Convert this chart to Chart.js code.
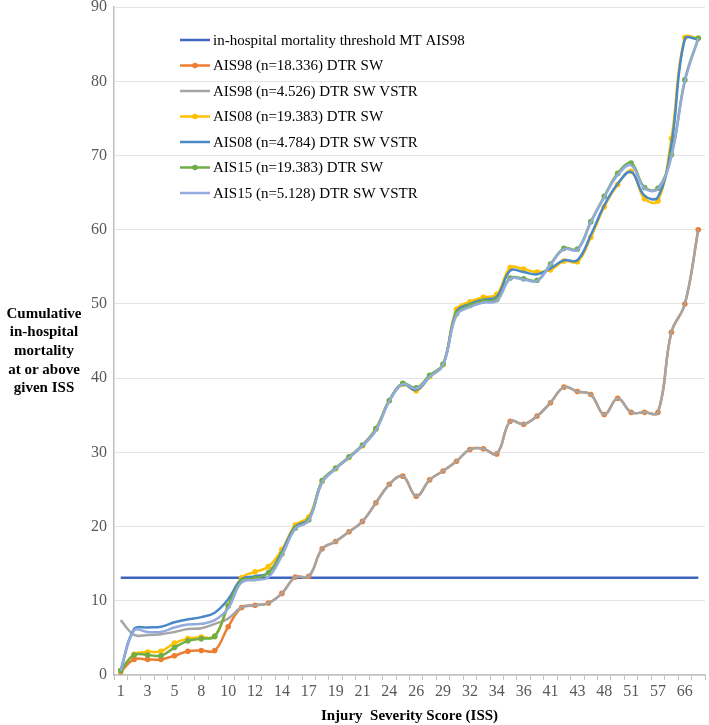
<!DOCTYPE html>
<html lang="en">
<head>
  <meta charset="UTF-8">
  <title>Cumulative in-hospital mortality at or above given ISS</title>
  <style>
    html, body { margin: 0; padding: 0; background: #fff; }
    #wrap { width: 709px; height: 725px; }
  </style>
</head>
<body>
<div id="wrap"><canvas id="chart" width="709" height="725"></canvas></div>
<script src="https://cdn.jsdelivr.net/npm/chart.js@4"></script>
<script>
// ISS categories on the x axis (only every other one gets a label)
const issValues = ['1','2','3','4','5','6','8','9','10','11','12','13','14','16','17','18','19','20','21','22',
  '24','25','26','27','29','30','32','33','34','35','36','38','41','42','43','45','48','50','51','54','57','59','66','75'];
const xTickLabels = ['1','3','5','8','10','12','14','17','19','21','24','26','29','32','34','36','41','43','48','51','57','66'];
const yTicks = [0, 10, 20, 30, 40, 50, 60, 70, 80, 90];

const threshold = [13.1,13.1,13.1,13.1,13.1,13.1,13.1,13.1,13.1,13.1,13.1,13.1,13.1,13.1,13.1,13.1,13.1,13.1,13.1,13.1,13.1,13.1,
  13.1,13.1,13.1,13.1,13.1,13.1,13.1,13.1,13.1,13.1,13.1,13.1,13.1,13.1,13.1,13.1,13.1,13.1,13.1,13.1,13.1,13.1];
const ais98sw = [0.45,2.1,2.1,2.1,2.6,3.2,3.3,3.3,6.5,9.1,9.4,9.7,11.0,13.2,13.3,17.0,18.0,19.3,20.7,23.2,25.7,26.8,
  24.1,26.3,27.5,28.8,30.4,30.5,29.8,34.2,33.8,34.9,36.7,38.8,38.2,37.8,35.1,37.3,35.4,35.4,35.4,46.2,50.0,60.0];
const ais98vstr = [7.4,5.4,5.4,5.5,5.8,6.2,6.3,6.9,7.6,9.1,9.4,9.7,11.0,13.2,13.3,17.0,18.0,19.3,20.7,23.2,25.7,26.8,
  24.1,26.3,27.5,28.8,30.4,30.5,29.8,34.2,33.8,34.9,36.7,38.8,38.2,37.8,35.1,37.3,35.4,35.4,35.4,46.2,50.0,60.0];
const ais08sw = [0.6,2.8,3.1,3.2,4.3,4.9,5.1,5.2,9.4,13.1,13.9,14.6,16.9,20.2,21.3,26.1,27.8,29.3,30.9,33.2,37.0,39.2,
  38.3,40.2,41.8,49.3,50.3,50.9,51.3,54.9,54.7,54.3,54.6,55.8,55.7,59.0,63.1,66.1,67.9,64.2,63.9,72.3,85.9,85.8];
const ais08vstr = [0.7,6.2,6.4,6.5,7.1,7.5,7.8,8.4,10.2,12.9,13.3,13.8,16.6,20.0,21.0,26.0,27.8,29.3,30.9,33.0,37.0,39.2,
  38.4,40.2,41.8,49.0,50.0,50.6,51.0,54.5,54.3,54.0,54.8,55.9,55.9,59.3,63.3,66.2,67.8,64.6,64.4,71.5,85.7,85.7];
const ais15sw = [0.6,2.7,2.7,2.6,3.7,4.6,4.9,5.2,9.3,12.7,13.0,13.8,16.3,19.8,20.9,26.2,27.9,29.4,31.0,33.2,37.0,39.3,
  38.7,40.4,41.9,48.7,49.8,50.4,50.6,53.5,53.4,53.2,55.4,57.5,57.4,61.1,64.5,67.6,69.0,65.7,65.6,70.1,80.2,85.8];
const ais15vstr = [0.6,6.0,5.8,5.8,6.4,6.8,6.9,7.4,9.0,12.5,12.8,13.2,16.1,19.7,20.8,26.0,27.8,29.3,30.9,33.0,36.9,39.2,
  38.6,40.2,41.8,48.5,49.6,50.2,50.4,53.4,53.3,53.1,55.3,57.4,57.3,61.0,64.4,67.4,68.7,65.6,65.5,69.9,80.0,85.8];

const seriesNames = [
  'in-hospital mortality threshold MT AIS98',
  'AIS98 (n=18.336) DTR SW',
  'AIS98 (n=4.526) DTR SW VSTR',
  'AIS08 (n=19.383) DTR SW',
  'AIS08 (n=4.784) DTR SW VSTR',
  'AIS15 (n=19.383) DTR SW',
  'AIS15 (n=5.128) DTR SW VSTR'
];
const seriesData = [threshold, ais98sw, ais98vstr, ais08sw, ais08vstr, ais15sw, ais15vstr];
const seriesColors = ['#3F66BF', '#ED7D31', '#A5A5A5', '#FFC000', '#4A88C7', '#70AD47', '#93ABDC'];
const seriesMarkers = [false, true, false, true, false, true, false];

const yTitleLines = ['Cumulative', 'in-hospital', 'mortality', 'at or above', 'given ISS'];
const serif = '"Liberation Serif", "Times New Roman", serif';

const datasets = seriesNames.map((name, i) => ({
  label: name,
  data: seriesData[i],
  borderColor: seriesColors[i],
  backgroundColor: seriesColors[i],
  borderWidth: 2.5,
  pointRadius: seriesMarkers[i] ? 2.8 : 0,
  pointBorderWidth: 0,
  tension: i === 0 ? 0 : 0.4,
  order: seriesNames.length - i
}));

// y-axis title (horizontal, several lines) and legend inside the plot area
const extras = {
  id: 'extras',
  afterDraw(chart) {
    const ctx = chart.ctx;
    ctx.save();
    ctx.fillStyle = '#000';
    ctx.textAlign = 'center';
    ctx.textBaseline = 'middle';
    ctx.font = 'bold 15px ' + serif;
    yTitleLines.forEach((t, i) => ctx.fillText(t, 44, 314 + i * 18.6));

    ctx.textAlign = 'left';
    ctx.font = '15px ' + serif;
    seriesNames.forEach((name, i) => {
      const y = 40 + i * 25.5;
      ctx.strokeStyle = seriesColors[i];
      ctx.lineWidth = 2.5;
      ctx.beginPath();
      ctx.moveTo(180, y);
      ctx.lineTo(210, y);
      ctx.stroke();
      if (seriesMarkers[i]) {
        ctx.fillStyle = seriesColors[i];
        ctx.beginPath();
        ctx.arc(195, y, 2.8, 0, Math.PI * 2);
        ctx.fill();
      }
      ctx.fillStyle = '#000';
      ctx.fillText(name, 213, y + 1);
    });
    ctx.restore();
  }
};

new Chart(document.getElementById('chart'), {
  type: 'line',
  data: { labels: issValues, datasets: datasets },
  options: {
    responsive: false,
    animation: false,
    layout: { padding: { top: 0, right: 1, left: 0, bottom: 0 } },
    plugins: { legend: { display: false }, tooltip: { enabled: false } },
    scales: {
      x: {
        offset: true,
        grid: { offset: true, drawOnChartArea: false, drawTicks: true, tickLength: 5, color: '#BFBFBF' },
        border: { color: '#BFBFBF', width: 1.5 },
        ticks: {
          autoSkip: false, maxRotation: 0, minRotation: 0, padding: 4,
          color: '#595959', font: { family: serif, size: 16, lineHeight: 1 },
          callback: function (value) {
            const l = this.getLabelForValue(value);
            return xTickLabels.includes(l) ? l : '';
          }
        },
        title: {
          display: true, text: 'Injury  Severity Score (ISS)', color: '#000',
          font: { family: serif, size: 15, weight: 'bold' }, padding: { top: 0, bottom: 0 }
        },
        afterFit(scale) { scale.height = 50; }
      },
      y: {
        min: yTicks[0], max: yTicks[yTicks.length - 1],
        afterBuildTicks(scale) { scale.ticks = yTicks.map(v => ({ value: v })); },
        ticks: { padding: 0, color: '#595959', font: { family: serif, size: 16, lineHeight: 0.9 } },
        grid: { color: '#E4E4E4', drawTicks: true, tickLength: 7, tickColor: 'rgba(0,0,0,0)' },
        border: { color: '#BFBFBF', width: 1.5 },
        afterFit(scale) { scale.width = 114; }
      }
    }
  },
  plugins: [extras]
});
</script>
</body>
</html>
